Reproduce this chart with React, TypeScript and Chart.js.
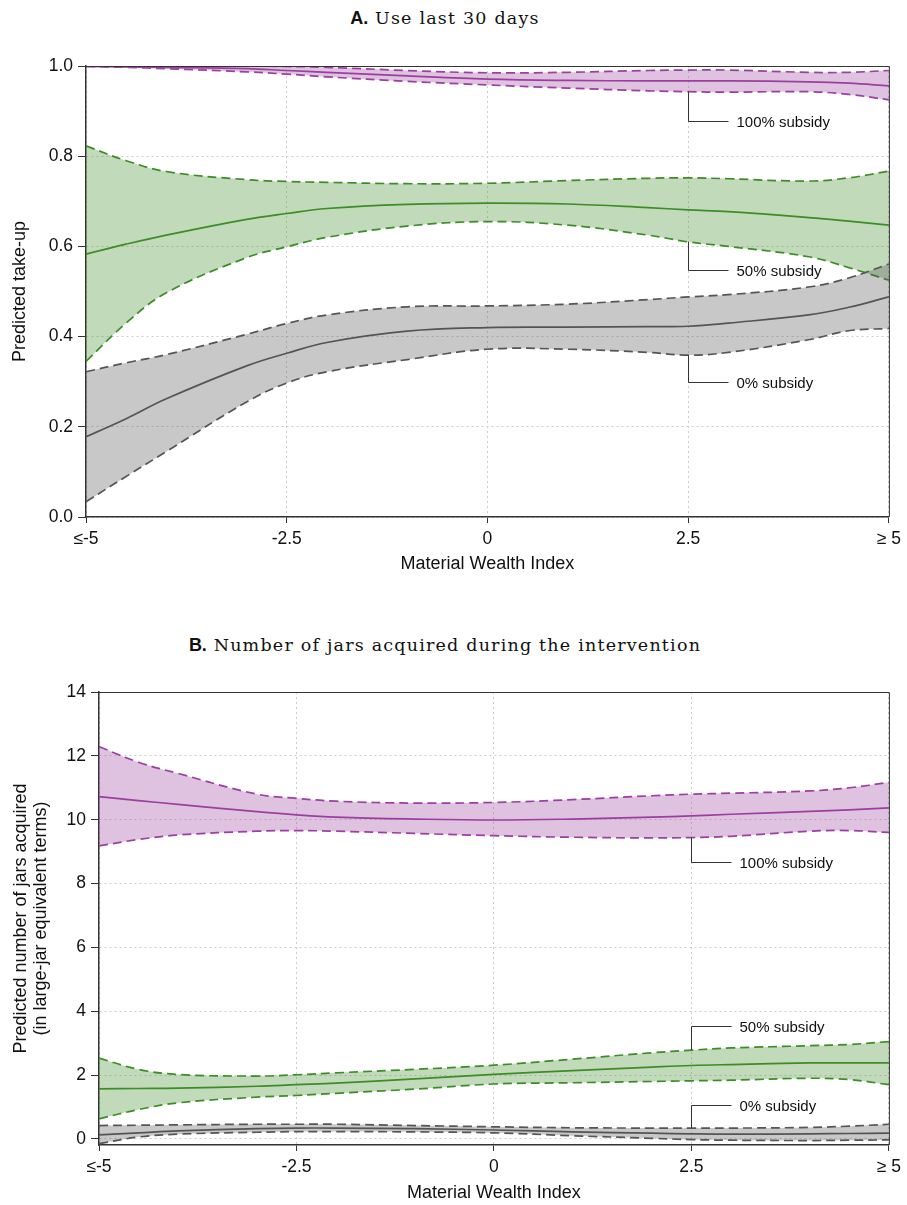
import React, { useEffect, useRef } from 'react';
import { Chart, registerables } from 'chart.js';

Chart.register(...registerables);

// ---------- shared data ----------
const xs = [-5, -4.5, -4, -3, -2.5, -2, -1, 0, 1, 2, 2.5, 3, 4, 4.5, 5];
const xTickValues = [-5, -2.5, 0, 2.5, 5];
const xTickLabels = ['≤-5', '-2.5', '0', '2.5', '≥ 5'];
const xTitle = 'Material Wealth Index';
const annoLabels = ['100% subsidy', '50% subsidy', '0% subsidy'];

// ---------- panel A: Use last 30 days ----------
const titleALetter = 'A.';
const titleAText = 'Use last 30 days';
const yTitleA = 'Predicted take-up';
const yTickValuesA = [0, 0.2, 0.4, 0.6, 0.8, 1.0];
const yTickLabelsA = ['0.0', '0.2', '0.4', '0.6', '0.8', '1.0'];

const aFullMean = [0.999, 0.998, 0.997, 0.994, 0.99, 0.986, 0.978, 0.971, 0.968, 0.967, 0.967, 0.967, 0.965, 0.962, 0.956];
const aFullUpper = [1.0, 1.0, 1.0, 1.0, 0.999, 0.997, 0.99, 0.985, 0.986, 0.99, 0.991, 0.991, 0.986, 0.986, 0.99];
const aFullLower = [0.999, 0.997, 0.994, 0.987, 0.982, 0.976, 0.966, 0.958, 0.951, 0.945, 0.943, 0.942, 0.943, 0.937, 0.925];

const aHalfMean = [0.583, 0.605, 0.625, 0.66, 0.673, 0.684, 0.693, 0.696, 0.694, 0.686, 0.681, 0.677, 0.664, 0.656, 0.647];
const aHalfUpper = [0.823, 0.79, 0.766, 0.748, 0.744, 0.742, 0.739, 0.74, 0.746, 0.751, 0.752, 0.75, 0.745, 0.752, 0.767];
const aHalfLower = [0.345, 0.43, 0.497, 0.575, 0.599, 0.62, 0.645, 0.655, 0.647, 0.625, 0.61, 0.6, 0.577, 0.553, 0.525];

const aZeroMean = [0.178, 0.218, 0.262, 0.335, 0.363, 0.387, 0.412, 0.42, 0.421, 0.422, 0.423, 0.43, 0.448, 0.465, 0.488];
const aZeroUpper = [0.322, 0.342, 0.36, 0.405, 0.429, 0.448, 0.466, 0.468, 0.472, 0.482, 0.488, 0.493, 0.51, 0.53, 0.561];
const aZeroLower = [0.034, 0.09, 0.145, 0.255, 0.297, 0.322, 0.349, 0.372, 0.372, 0.365, 0.359, 0.365, 0.393, 0.413, 0.418];

const annoAY = [0.878, 0.548, 0.299];

// ---------- panel B: Number of jars ----------
const titleBLetter = 'B.';
const titleBText = 'Number of jars acquired during the intervention';
const yTitleB = ['Predicted number of jars acquired', '(in large-jar equivalent terms)'];
const yTickValuesB = [0, 2, 4, 6, 8, 10, 12, 14];
const yTickLabelsB = ['0', '2', '4', '6', '8', '10', '12', '14'];

const bFullMean = [10.72, 10.6, 10.48, 10.25, 10.15, 10.08, 10.02, 9.99, 10.02, 10.08, 10.12, 10.17, 10.26, 10.31, 10.37];
const bFullUpper = [12.29, 11.8, 11.45, 10.8, 10.67, 10.58, 10.52, 10.54, 10.63, 10.75, 10.8, 10.83, 10.9, 11.0, 11.17];
const bFullLower = [9.18, 9.38, 9.52, 9.64, 9.66, 9.64, 9.57, 9.5, 9.45, 9.43, 9.44, 9.48, 9.64, 9.66, 9.6];

const bHalfMean = [1.57, 1.58, 1.59, 1.65, 1.7, 1.75, 1.88, 2.02, 2.14, 2.25, 2.3, 2.33, 2.38, 2.38, 2.38];
const bHalfUpper = [2.53, 2.18, 2.02, 1.97, 2.01, 2.07, 2.18, 2.31, 2.5, 2.7, 2.78, 2.85, 2.92, 2.96, 3.05];
const bHalfLower = [0.63, 0.92, 1.13, 1.31, 1.36, 1.43, 1.56, 1.72, 1.76, 1.8, 1.82, 1.84, 1.9, 1.86, 1.7];

const bZeroMean = [0.13, 0.19, 0.25, 0.32, 0.34, 0.34, 0.32, 0.28, 0.22, 0.18, 0.16, 0.15, 0.16, 0.17, 0.18];
const bZeroUpper = [0.42, 0.43, 0.44, 0.46, 0.46, 0.46, 0.42, 0.38, 0.35, 0.34, 0.34, 0.34, 0.36, 0.4, 0.46];
const bZeroLower = [-0.15, 0.06, 0.15, 0.21, 0.23, 0.23, 0.22, 0.19, 0.1, 0.02, -0.02, -0.04, -0.05, -0.04, -0.03];

const annoBY = [8.68, 3.53, 1.05];

// ---------- styles ----------
const SANS = "'Liberation Sans', Arial, Helvetica, sans-serif";
const PURPLE = '#9b3fa0';
const PURPLE_FILL = 'rgba(155,63,160,0.32)';
const GREEN = '#3d8c28';
const GREEN_FILL = 'rgba(61,140,40,0.32)';
const GREY = '#555555';
const GREY_FILL = 'rgba(85,85,85,0.32)';

function pts(vals: number[]) {
  return xs.map((x, i) => ({ x, y: vals[i] }));
}

function band(color: string, fill: string, mean: number[], upper: number[], lower: number[]) {
  const common = {
    pointRadius: 0,
    pointHoverRadius: 0,
    tension: 0.4,
    borderColor: color,
  };
  return [
    { ...common, data: pts(lower), borderWidth: 1.7, borderDash: [9, 5], fill: false },
    { ...common, data: pts(upper), borderWidth: 1.7, borderDash: [9, 5], fill: '-1', backgroundColor: fill },
    { ...common, data: pts(mean), borderWidth: 1.7, borderDash: [], fill: false },
  ];
}

const framePlugin = {
  id: 'frame',
  afterDatasetsDraw(chart: any) {
    const { ctx, chartArea } = chart;
    ctx.save();
    ctx.strokeStyle = '#333';
    ctx.lineWidth = 1;
    ctx.beginPath();
    ctx.moveTo(chartArea.left, chartArea.top + 0.5);
    ctx.lineTo(chartArea.right + 0.5, chartArea.top + 0.5);
    ctx.lineTo(chartArea.right + 0.5, chartArea.bottom);
    ctx.stroke();
    ctx.restore();
  },
};

function annoPlugin(anchors: number[], labelYs: number[]) {
  return {
    id: 'anno',
    afterDraw(chart: any) {
      const { ctx } = chart;
      const xS = chart.scales.x;
      const yS = chart.scales.y;
      const x0 = Math.round(xS.getPixelForValue(2.5)) + 0.5;
      ctx.save();
      ctx.strokeStyle = '#333';
      ctx.lineWidth = 1;
      ctx.fillStyle = '#111';
      ctx.font = `15px ${SANS}`;
      ctx.textAlign = 'left';
      ctx.textBaseline = 'middle';
      anchors.forEach((a, i) => {
        const y0 = yS.getPixelForValue(a);
        const y1 = Math.round(yS.getPixelForValue(labelYs[i])) + 0.5;
        ctx.beginPath();
        ctx.moveTo(x0, y0);
        ctx.lineTo(x0, y1);
        ctx.lineTo(x0 + 40, y1);
        ctx.stroke();
        ctx.fillText(annoLabels[i], x0 + 48, y1 + 1);
      });
      ctx.restore();
    },
  };
}

function makeConfig(opts: {
  datasets: any[];
  yMin: number;
  yMax: number;
  yTicks: number[];
  yLabels: string[];
  yTitle: string | string[];
  yTitlePad: number;
  yTitleLH: number;
  yWidth: number;
  xHeight: number;
  xTitlePad: number;
  padTop: number;
  anchors: number[];
  labelYs: number[];
}) {
  const tickFont = { family: SANS, size: 17.5 };
  return {
    type: 'line' as const,
    data: { datasets: opts.datasets },
    plugins: [framePlugin, annoPlugin(opts.anchors, opts.labelYs)],
    options: {
      animation: false as const,
      responsive: false,
      devicePixelRatio: 1,
      events: [],
      layout: { padding: { top: opts.padTop, right: 16, left: 0, bottom: 0 } },
      plugins: { legend: { display: false }, tooltip: { enabled: false }, title: { display: false } },
      scales: {
        x: {
          type: 'linear' as const,
          min: -5,
          max: 5,
          afterBuildTicks: (s: any) => {
            s.ticks = xTickValues.map((v) => ({ value: v }));
          },
          afterFit: (s: any) => {
            s.height = opts.xHeight;
          },
          ticks: {
            autoSkip: false,
            maxRotation: 0,
            padding: 6,
            color: '#111',
            font: tickFont,
            callback: (_v: any, i: number) => xTickLabels[i],
          },
          grid: { color: '#cdcdcd', lineWidth: 1, tickLength: 6, tickColor: '#333', tickWidth: 1 },
          border: { color: '#333', width: 1.5, dash: [2, 3] },
          title: {
            display: true,
            text: xTitle,
            color: '#111',
            font: { family: SANS, size: 18 },
            padding: { top: 0, bottom: opts.xTitlePad },
          },
        },
        y: {
          type: 'linear' as const,
          min: opts.yMin,
          max: opts.yMax,
          afterBuildTicks: (s: any) => {
            s.ticks = opts.yTicks.map((v) => ({ value: v }));
          },
          afterFit: (s: any) => {
            s.width = opts.yWidth;
          },
          ticks: {
            autoSkip: false,
            padding: 5,
            color: '#111',
            font: tickFont,
            callback: (_v: any, i: number) => opts.yLabels[i],
          },
          grid: { color: '#cdcdcd', lineWidth: 1, tickLength: 8, tickColor: '#333', tickWidth: 1 },
          border: { color: '#333', width: 1.5, dash: [2, 3] },
          title: {
            display: true,
            text: opts.yTitle,
            color: '#111',
            font: { family: SANS, size: 18, lineHeight: opts.yTitleLH },
            padding: { top: opts.yTitlePad, bottom: 0 },
          },
        },
      },
    },
  };
}

function ChartCanvas(props: { config: any; top: number; height: number }) {
  const ref = useRef<HTMLCanvasElement | null>(null);
  useEffect(() => {
    if (!ref.current) return;
    const chart = new Chart(ref.current, props.config);
    return () => chart.destroy();
  }, []);
  return (
    <canvas
      ref={ref}
      width={907}
      height={props.height}
      style={{ position: 'absolute', left: 0, top: props.top, width: 907, height: props.height, display: 'block' }}
    />
  );
}

function Title(props: { letter: string; text: string; top: number }) {
  return (
    <div
      style={{
        position: 'absolute',
        left: 0,
        top: props.top,
        width: 890,
        textAlign: 'center',
        fontFamily: "'DejaVu Serif', serif",
        fontSize: 17.5,
        lineHeight: '20px',
        letterSpacing: '1.2px',
        color: '#111',
        whiteSpace: 'nowrap',
      }}
    >
      <span style={{ fontFamily: SANS, fontWeight: 'bold', fontSize: 18, letterSpacing: 0 }}>{props.letter}</span>{' '}
      {props.text}
    </div>
  );
}

export default function App() {
  const configA = makeConfig({
    datasets: [
      ...band(GREY, GREY_FILL, aZeroMean, aZeroUpper, aZeroLower),
      ...band(GREEN, GREEN_FILL, aHalfMean, aHalfUpper, aHalfLower),
      ...band(PURPLE, PURPLE_FILL, aFullMean, aFullUpper, aFullLower),
    ],
    yMin: 0,
    yMax: 1,
    yTicks: yTickValuesA,
    yLabels: yTickLabelsA,
    yTitle: yTitleA,
    yTitlePad: 9,
    yTitleLH: 1.2,
    yWidth: 86,
    xHeight: 83,
    xTitlePad: 25,
    padTop: 66,
    anchors: [aFullLower[10], aHalfLower[10], aZeroLower[10]],
    labelYs: annoAY,
  });
  const configB = makeConfig({
    datasets: [
      ...band(GREY, GREY_FILL, bZeroMean, bZeroUpper, bZeroLower),
      ...band(GREEN, GREEN_FILL, bHalfMean, bHalfUpper, bHalfLower),
      ...band(PURPLE, PURPLE_FILL, bFullMean, bFullUpper, bFullLower),
    ],
    yMin: -0.19,
    yMax: 14,
    yTicks: yTickValuesB,
    yLabels: yTickLabelsB,
    yTitle: yTitleB,
    yTitlePad: 11,
    yTitleLH: 1.1,
    yWidth: 99,
    xHeight: 60,
    xTitlePad: 1,
    padTop: 92,
    anchors: [bFullLower[10], bHalfUpper[10], bZeroUpper[10]],
    labelYs: annoBY,
  });
  return (
    <div style={{ position: 'absolute', left: 0, top: 0, width: 907, height: 1205, background: '#fff' }}>
      <Title letter={titleALetter} text={titleAText} top={8} />
      <ChartCanvas config={configA} top={0} height={600} />
      <Title letter={titleBLetter} text={titleBText} top={635} />
      <ChartCanvas config={configB} top={600} height={605} />
    </div>
  );
}
